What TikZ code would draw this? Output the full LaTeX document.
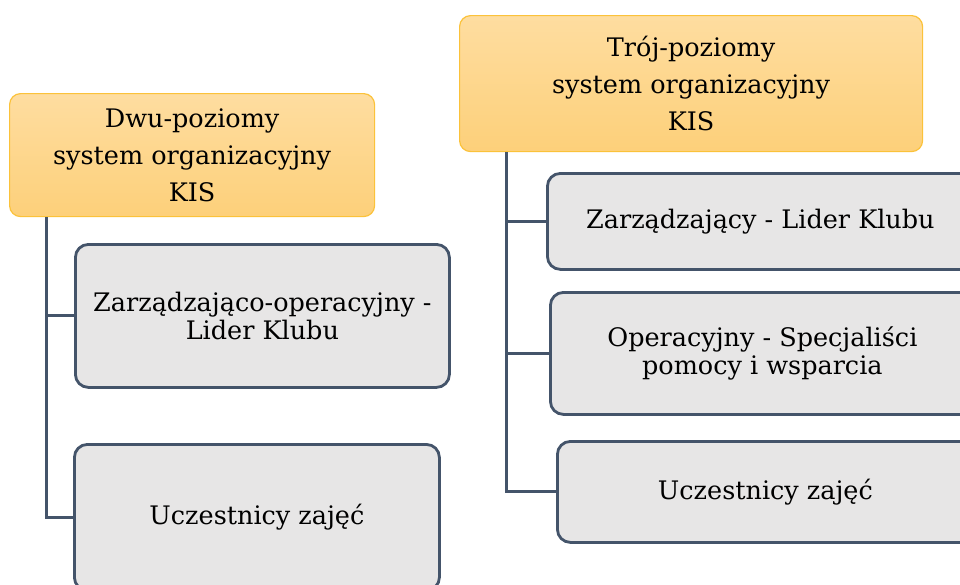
\documentclass[tikz,border=0pt]{standalone}
\usepackage{fontspec}
\setmainfont{DejaVu Serif}
\definecolor{hdrline}{HTML}{FBC23A}
\definecolor{hdrtop}{HTML}{FEDDA0}
\definecolor{hdrbot}{HTML}{FDD07A}
\definecolor{slate}{HTML}{44546A}
\definecolor{boxgray}{HTML}{E7E6E6}
\begin{document}
\begin{tikzpicture}[x=1pt,y=-1pt,
  hdr/.style={draw=hdrline, line width=1.2pt, rounded corners=11pt, top color=hdrtop, bottom color=hdrbot, align=center, anchor=north west, inner sep=0pt, font=\fontsize{25.5}{37}\selectfont},
  itm/.style={draw=slate, line width=2.8pt, rounded corners=13pt, fill=boxgray, align=center, anchor=north west, inner sep=0pt, font=\fontsize{25.5}{27.5}\selectfont},
  conn/.style={draw=slate, line width=3pt}]
\useasboundingbox (0,0) rectangle (960,584);
\clip (0,0) rectangle (960,584);
% left column
\node[hdr, minimum width=365pt, minimum height=123pt] (h1) at (9,93) {Dwu-poziomy\\system organizacyjny\\KIS};
\node[itm, minimum width=374pt, minimum height=143pt] (b11) at (74,243) {Zarządzająco-operacyjny -\\Lider Klubu};
\node[itm, minimum width=365pt, minimum height=146pt] (b12) at (73,443) {Uczestnicy zajęć};
\coordinate (lt) at (46,0);
\draw[conn] (h1.south -| lt) |- (b11.west);
\draw[conn] (h1.south -| lt) |- (b12.west);
% right column
\node[hdr, minimum width=463pt, minimum height=136pt] (h2) at (459,15) {Trój-poziomy\\system organizacyjny\\KIS};
\node[itm, minimum width=426pt, minimum height=96pt] (b21) at (546,172) {Zarządzający - Lider Klubu};
\node[itm, minimum width=424pt, minimum height=122pt] (b22) at (549,291) {Operacyjny - Specjaliści\\pomocy i wsparcia};
\node[itm, minimum width=416pt, minimum height=101pt] (b23) at (556,440) {Uczestnicy zajęć};
\coordinate (rt) at (506,0);
\draw[conn] (h2.south -| rt) |- (b21.west);
\draw[conn] (h2.south -| rt) |- (b22.west);
\draw[conn] (h2.south -| rt) |- (b23.west);
\end{tikzpicture}
\end{document}
